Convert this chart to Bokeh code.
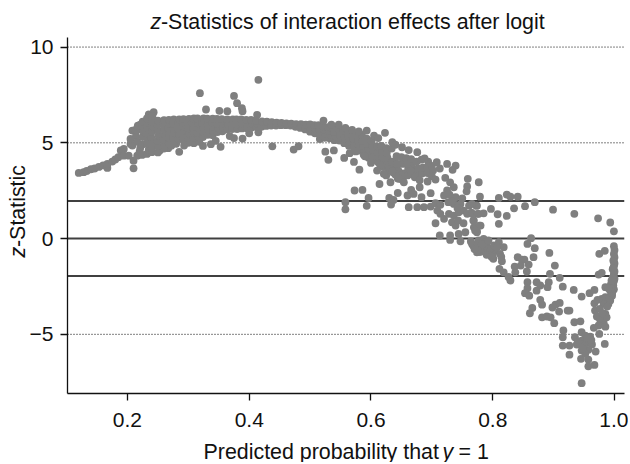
from bokeh.plotting import figure
from bokeh.models import Span, Label, Range1d, FixedTicker
from bokeh.embed import file_html
from bokeh.resources import INLINE
import math

x_ticks = [0.2, 0.4, 0.6, 0.8, 1.0]
y_ticks = [-5, 0, 5, 10]
dotted_levels = [10, 5, -5]
solid_levels = [1.96, 0, -1.96]

tail_x = [.120,.128,.133,.140,.146,.153,.160,.167,.167,.175,.180,.185,.189,.194,.194,.202,.210,.210,.205,.208,.213,.208,.205,.216,.224,.232,.240,.221]
tail_y = [3.43,3.47,3.53,3.62,3.66,3.74,3.82,3.69,3.90,4.02,4.13,4.25,4.60,4.68,4.33,4.33,4.07,3.67,4.94,5.64,5.67,4.86,5.20,4.33,4.37,4.42,4.51,4.73]

up_x = [.319,.415,.329,.351,.364,.375,.380,.388,.389,.413,.221,.235,.243]
up_y = [7.59,8.29,6.74,6.67,6.65,7.45,7.07,6.81,6.65,6.46,5.95,6.48,6.60]

low_x = [.285,.267,.253,.293,.309,.324,.337,.353,.389,.438,.473,.481,.525,.530,.539,.556,.565,.572,.581,
         .220,.235,.250,.260,.272,.280,.300,.318,.345,.368,.400,.415,.375]
low_y = [4.53,4.72,4.60,4.86,4.98,4.84,4.93,4.79,5.22,4.82,4.65,4.82,4.54,4.11,4.60,4.21,4.46,4.00,3.60,
         4.55,4.65,4.50,4.70,4.85,4.95,5.00,5.05,5.10,5.35,5.50,5.55,5.25]

blob_x = [.214,.215,.216,.217,.224,.225,.226,.224,.225,.232,.233,.231,.232,.233,.232,.240,.241,.239,.240,.241,.240,.241,
          .250,.249,.251,.250,.249,.250,.260,.259,.261,.260,.259,.260,.268,.269,.268,.267,.269,.268,
          .276,.275,.277,.276,.275,.276,.284,.285,.284,.283,.285,.292,.291,.293,.292,.291,.292,
          .300,.301,.300,.299,.301,.308,.309,.308,.307,.309,.316,.315,.317,.316,.315,
          .324,.325,.324,.323,.325,.332,.333,.332,.331,.340,.341,.340,.339,.340,
          .348,.349,.348,.347,.356,.357,.356,.355,.364,.365,.364,.372,.371,.373,.380,.381,.379,
          .388,.389,.387,.396,.397,.395,.404,.405,.403,.412,.413,.411,.420,.421,.428,.429,.436,.437,
          .444,.445,.452,.453,.460,.461,.468,.469,.476,.477,.484,.485,.492,.493,.500,.501,.500,.508,.509,.507,
          .516,.517,.515,.514,.524,.525,.523,.522,.532,.533,.531,.530,.540,.541,.539,.538,.548,.549,.547,
          .556,.557,.555,.554,.564,.565,.563,.562,.572,.573,.571,.570,.580,.581,.579,.578,
          .588,.589,.587,.586,.585,.596,.597,.595,.594,.593,.604,.605,.603,.602,.601,
          .612,.613,.611,.610,.620,.621,.619,.618,.617,.628,.629,.627,.626,.625,
          .636,.637,.635,.634,.644,.645,.643,.642,.652,.653,.651,.650,.660,.661,.659,.658,
          .668,.669,.667,.666,.676,.677,.675,.684,.685,.683,.693,.692,.694,.700,.702,.708,.713,.725,.739,.734]
blob_y = [5.35,5.65,5.05,5.90,4.90,5.30,5.60,5.88,6.10,4.95,5.22,5.50,5.78,6.05,6.28,4.72,5.02,5.30,5.58,5.86,6.12,6.40,
          4.82,5.10,5.38,5.66,5.94,6.16,4.88,5.16,5.44,5.70,5.96,6.18,4.98,5.24,5.50,5.76,6.00,6.20,
          5.02,5.28,5.52,5.76,6.00,6.22,5.20,5.46,5.72,5.98,6.23,5.14,5.40,5.64,5.86,6.06,6.24,
          5.24,5.50,5.76,6.02,6.25,5.26,5.52,5.78,6.04,6.27,5.30,5.54,5.78,6.02,6.27,
          5.30,5.56,5.80,6.04,6.27,5.42,5.66,5.92,6.26,5.40,5.62,5.84,6.06,6.26,
          5.56,5.76,5.98,6.25,5.60,5.80,6.02,6.24,5.70,5.96,6.23,5.72,5.96,6.22,5.72,5.96,6.22,
          5.75,5.98,6.22,5.76,5.98,6.20,5.80,6.00,6.20,5.82,6.00,6.16,5.84,6.12,5.88,6.10,5.90,6.08,
          5.90,6.06,5.92,6.04,5.92,6.02,5.90,6.00,5.84,5.98,5.78,5.97,5.70,5.95,5.58,5.78,5.96,5.50,5.72,5.93,
          5.20,5.46,5.70,5.92,5.26,5.48,5.68,5.86,5.24,5.44,5.64,5.82,5.14,5.36,5.58,5.78,5.12,5.40,5.72,
          4.98,5.22,5.44,5.64,4.84,5.06,5.28,5.50,4.78,5.00,5.22,5.44,4.60,4.84,5.08,5.40,
          4.38,4.62,4.86,5.10,5.42,4.22,4.46,4.70,4.94,5.22,4.10,4.36,4.62,4.88,5.10,
          3.98,4.24,4.50,4.82,3.74,3.98,4.24,4.50,4.84,3.70,3.96,4.22,4.48,4.72,
          3.46,3.74,4.02,4.70,3.14,3.42,3.90,4.30,3.06,3.40,3.90,4.25,3.34,3.62,3.90,4.20,
          3.36,3.62,3.88,4.15,3.38,3.66,4.02,3.40,3.70,4.12,3.42,3.72,4.02,3.80,3.55,3.99,3.66,3.90,3.81,3.59]

band_x = [.522,.547,.569,.593,.623,.635,.651,.676,.688,.535,.558,.580,.605,.612,.640,.662,.600,.615,.630,.645,.660,.672,.610,.625,.650,.680,.700,.640,.575,.590]
band_y = [6.16,5.95,5.67,5.64,5.52,5.03,4.77,4.51,4.19,5.95,5.78,5.60,5.38,5.25,4.90,4.62,3.95,3.85,3.62,3.55,3.30,3.20,3.55,3.30,3.30,3.05,3.25,3.35,4.55,4.30]

mid_x = [.614,.573,.586,.596,.593,.558,.558,.632,.630,.637,.633,.644,.662,.660,.666,.680,.670,.683,.676,.687,.698,.698,.706,.714,.709,.693,.706,.722,.646,.654,.665,.635,.621,.643,.659]
mid_y = [2.85,2.51,2.54,2.12,1.71,1.90,1.53,2.94,2.12,2.02,1.78,2.38,1.64,2.25,2.54,2.68,2.33,2.16,1.64,1.64,1.67,2.37,1.85,1.76,1.46,2.98,3.08,3.17,3.12,2.94,3.55,3.52,3.38,3.90,3.90]

centre_x = [.706,.713,.730,.744,.755,.747,.730,.774,.766,.780,.730,.759,.758,.757,.777,.736,.725,.720,.739,.736,.747,.761,.774,.714,.720,.728,.736,.744,.733,.739,.752,.758,.769,.777,.769,.774,.780,.729,.733,.742,.727,.750,.765,.743,.752]
centre_y = [.80,.16,.16,.24,.33,-.14,-.07,-.72,-.28,-.37,2.94,3.12,2.72,2.47,2.94,2.68,2.51,2.25,2.16,1.81,1.81,1.72,1.72,1.29,1.03,1.29,1.20,1.38,.85,.68,1.46,1.29,.94,1.29,.59,.33,.68,2.30,1.95,1.60,1.90,2.10,1.35,.95,.80]

right_x = [.779,.810,.823,.829,.841,.869,.853,.835,.797,.808,.823,.810,.785,.778,.774,.899,.934,.973,.993,.999,.766,.773,.766,.775,.768,.771,
           .863,.857,.869,.893,.867,.841,.848,.852,.859,.846,.836,.837,.856,.902,.894,.910,.915,.933,.946,.959,.967,.829,.857,.857,.853,.860,.872,.878,.872,.892,.890,
           .878,.881,.865,.861,.881,.889,.895,.901,.898,.903,.910,.909,.923,.926,.934,.944,.916,.915,.915,.926,.935,.938,.926,.945,.957,.957,.967,.946,.984,.969,.975,
           .946,.952,.960,.946,.955,.963,.949,.957,.946,.952,.944,.955,.950,.940,.962,.948]
right_y = [2.19,2.12,2.30,2.19,2.19,1.90,1.69,1.58,1.55,1.27,1.18,.77,1.32,.68,.38,1.51,1.29,1.06,.84,.38,1.29,1.72,1.81,1.29,.94,.42,
           .02,-.28,-.50,-.75,-.97,-.97,-1.10,-1.10,-1.36,-1.41,-1.46,-1.76,-1.72,-1.41,-1.84,-2.05,-2.51,-2.68,-3.03,-2.85,-2.68,-2.19,-2.28,-2.59,-2.85,-2.98,-2.28,-2.45,-2.72,-2.28,-2.54,
           -3.20,-3.45,-3.62,-3.90,-4.11,-4.07,-4.11,-4.42,-3.60,-3.45,-3.36,-3.81,-3.76,-3.76,-4.37,-4.32,-4.80,-5.15,-5.59,-5.59,-5.15,-5.53,-6.06,-6.28,-6.32,-6.67,-6.60,-7.55,-5.50,-5.90,-4.98,
           -4.89,-5.07,-5.12,-5.33,-5.41,-5.53,-5.67,-5.81,-5.85,-6.02,-5.50,-5.20,-5.60,-5.40,-5.30,-5.75]

lowmid_x = [.768,.777,.785,.779,.790,.796,.785,.804,.810,.818,.812,.801,.815,.811,.818,.826,.772,.780,.788,.795,.802,.775,.783,.793,.800,.807,.814,.764,.770,.790,.798]
lowmid_y = [-.37,-.10,-.02,-.71,-.28,-.54,-.54,-.63,-.19,-.45,-.80,-1.06,-1.18,-1.58,-1.76,-2.00,-.30,-.45,-.20,-.70,-.35,-.60,-.30,-.10,-.85,-.45,-.95,-.15,-.55,-.85,-.95]

wall_x = [.975,.984,.999,.974,.979,.985,.993,.996,.967,.979,.985,.990,.982,.968,.976,.971,.985,.987,.982,.974,.966,.985,.993,.976,.988,.972,.980,.991,
          1.000,.999,1.000,.998,1.000,.999,.997,1.000,.999,.998,1.000,.999,.997,.998,.996,.999,.997,.995,.994,.997,.992,.996,.999,.995,.998,.994,.990]
wall_y = [-.80,-.64,-.40,-1.88,-1.79,-2.54,-2.72,-2.98,-3.38,-3.15,-3.06,-3.41,-3.41,-3.76,-3.67,-4.07,-3.93,-4.11,-4.37,-4.54,-4.66,-4.60,-3.24,-4.20,-3.55,-3.20,-3.90,-3.10,
          -.60,-.80,-.98,-1.15,-1.30,-1.45,-1.60,-1.72,-1.85,-2.00,-2.10,-2.22,-2.35,-2.45,-2.58,-2.65,-2.72,-2.80,-2.40,-2.05,-2.55,-2.85,-1.20,-2.20,-1.55,-2.62,-2.60]

xs = tail_x + up_x + low_x + blob_x + band_x + mid_x + centre_x + right_x + lowmid_x + wall_x
ys = tail_y + up_y + low_y + blob_y + band_y + mid_y + centre_y + right_y + lowmid_y + wall_y

W, H = 628, 462
p = figure(width=W, height=H, output_backend="svg", toolbar_location=None,
           x_range=Range1d(0.1015, 1.0164), y_range=Range1d(-8.09, 10.5),
           min_border_left=67, min_border_right=4, min_border_top=37, min_border_bottom=69)
p.outline_line_color = None
p.grid.visible = False
p.background_fill_color = "white"

for lv in dotted_levels:
    p.add_layout(Span(location=lv, dimension="width", line_color="#000000", line_width=1, line_dash="1 2", level="underlay"))
for lv in solid_levels:
    p.add_layout(Span(location=lv, dimension="width", line_color="#404040", line_width=2, level="underlay"))

p.scatter(xs, ys, size=7.8, color="#7f7f7f", line_color=None)

FONT = "Liberation Sans"
for ax, ticks in ((p.xaxis, x_ticks), (p.yaxis, y_ticks)):
    ax.ticker = FixedTicker(ticks=ticks)
    ax.major_tick_out = 7
    ax.major_tick_in = 0
    ax.minor_tick_line_color = None
    ax.axis_line_color = "#111111"
    ax.major_tick_line_color = "#111111"
    ax.axis_line_width = 1.3
    ax.major_tick_line_width = 1.3
    ax.major_label_text_font = FONT
    ax.major_label_text_font_size = "21px"
    ax.major_label_text_color = "#111111"
p.xaxis.major_label_overrides = {t: f"{t:.1f}" for t in x_ticks}
p.yaxis.major_label_overrides = {-5: "\u22125", 0: "0", 5: "5", 10: "10"}
p.xaxis.major_label_standoff = 12
p.yaxis.major_label_standoff = 7
p.yaxis.major_label_orientation = "horizontal"

# Transparent layer on top that carries the mixed italic/upright titles
q = figure(width=W, height=H, output_backend="svg", toolbar_location=None,
           x_axis_location=None, y_axis_location=None,
           x_range=Range1d(0, W), y_range=Range1d(H, 0),
           min_border_left=0, min_border_right=0, min_border_top=0, min_border_bottom=0)
q.outline_line_color = None
q.grid.visible = False
q.background_fill_alpha = 0
q.border_fill_alpha = 0
q.styles = {"position": "absolute", "left": "0px", "top": "0px"}
q.scatter([0], [0], size=0, alpha=0)

def txt(s, px, py, italic=False, angle=0):
    q.add_layout(Label(x=px, y=py, text=s, text_font=FONT, text_font_size="21.4px",
                       text_font_style="italic" if italic else "normal", text_color="#111111",
                       text_baseline="alphabetic", text_align="left", angle=angle))

txt("z", 150, 21, italic=True)
txt("-Statistics of interaction effects after logit", 160.5, 21)
txt("Predicted probability that", 203, 451)
txt("y", 442, 451, italic=True)
txt("= 1", 458, 451)
txt("z", 17, 257, italic=True, angle=math.pi / 2)
txt("-Statistic", 17, 246.5, angle=math.pi / 2)

open("out.html", "w").write(file_html([p, q], INLINE))
